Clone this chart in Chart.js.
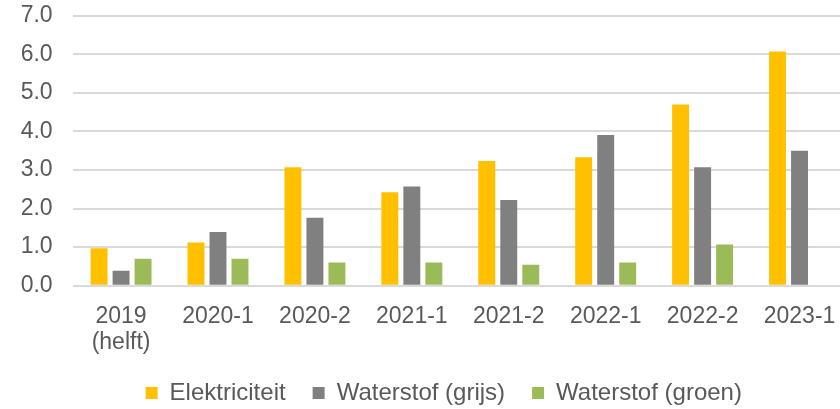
<!DOCTYPE html>
<html>
<head>
<meta charset="utf-8">
<script src="https://cdn.jsdelivr.net/npm/chart.js@4"></script>
<style>
  html, body { margin: 0; padding: 0; background: #ffffff; overflow: hidden; width: 840px; height: 409px; }
  canvas { display: block; }
</style>
</head>
<body>
<canvas id="c" width="848" height="415"></canvas>
<script>
const categories = [["2019", "(helft)"], "2020-1", "2020-2", "2021-1", "2021-2", "2022-1", "2022-2", "2023-1"];
const elektriciteit = [0.97, 1.12, 3.07, 2.42, 3.23, 3.33, 4.70, 6.07];
const waterstofGrijs = [0.39, 1.39, 1.76, 2.57, 2.22, 3.91, 3.07, 3.50];
const waterstofGroen = [0.70, 0.70, 0.60, 0.60, 0.54, 0.60, 1.07, null];
const seriesNames = ["Elektriciteit", "Waterstof (grijs)", "Waterstof (groen)"];
const yTicks = [0, 1, 2, 3, 4, 5, 6, 7];

const textColor = "#595959";
const fontFamily = "'Liberation Sans', Arial, sans-serif";

const legendShift = {
  id: "legendShift",
  afterLayout(chart) {
    const lg = chart.legend;
    if (!lg || !lg.lineWidths) return;
    const p = lg.options.labels.padding;
    const desiredStart = 145.6;
    lg.left = 2 * desiredStart - p - lg.right + lg.lineWidths[0];
  }
};

new Chart(document.getElementById("c"), {
  type: "bar",
  data: {
    labels: categories,
    datasets: [
      { label: seriesNames[0], data: elektriciteit, backgroundColor: "#FFC000" },
      { label: seriesNames[1], data: waterstofGrijs, backgroundColor: "#808080" },
      { label: seriesNames[2], data: waterstofGroen, backgroundColor: "#9BBB59" }
    ]
  },
  options: {
    responsive: false,
    animation: false,
    devicePixelRatio: 1,
    layout: { padding: { top: 15.7, left: 0, right: 0, bottom: 0 } },
    datasets: { bar: { categoryPercentage: 0.681, barPercentage: 0.77 } },
    scales: {
      x: {
        grid: { display: true, color: "transparent", drawTicks: true, tickLength: 18, tickColor: "transparent" },
        border: { display: false },
        ticks: {
          color: textColor,
          font: { family: fontFamily, size: 23, lineHeight: 1.13 },
          padding: 0,
          maxRotation: 0,
          autoSkip: false
        },
        afterFit(scale) { scale.height = 68.3; }
      },
      y: {
        min: 0,
        max: 7,
        afterBuildTicks(scale) { scale.ticks = yTicks.map(v => ({ value: v })); },
        grid: { color: "#d9d9d9", lineWidth: 2, drawTicks: true, tickLength: 20, tickColor: "transparent" },
        border: { display: false },
        ticks: {
          color: textColor,
          font: { family: fontFamily, size: 23 },
          padding: 0,
          callback: v => Number(v).toFixed(1)
        },
        afterFit(scale) { scale.width = 72.6; }
      }
    },
    plugins: {
      tooltip: { enabled: false },
      legend: {
        position: "bottom",
        labels: {
          color: textColor,
          font: { family: fontFamily, size: 24 },
          boxWidth: 12,
          boxHeight: 12,
          padding: 27
        }
      }
    }
  },
  plugins: [legendShift]
});
</script>
</body>
</html>
